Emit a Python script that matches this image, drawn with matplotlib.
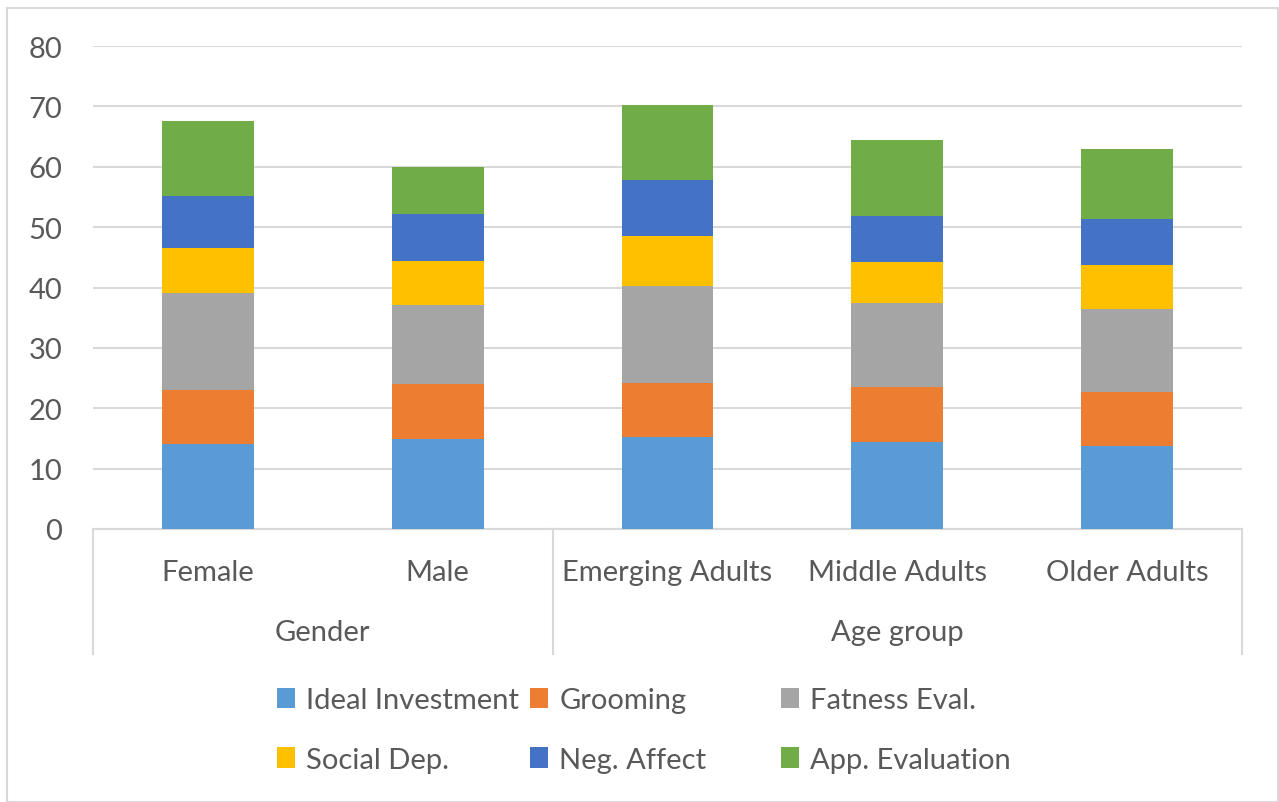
import matplotlib
matplotlib.use("Agg")
import matplotlib.pyplot as plt
from matplotlib.patches import Rectangle

categories = ["Female", "Male", "Emerging Adults", "Middle Adults", "Older Adults"]
groups = ["Gender", "Age group"]
group_sizes = [2, 3]

series_names = ["Ideal Investment", "Grooming", "Fatness Eval.",
                "Social Dep.", "Neg. Affect", "App. Evaluation"]
ideal_investment = [14.0, 14.9, 15.2, 14.4, 13.7]
grooming = [9.0, 9.1, 9.0, 9.2, 9.0]
fatness_eval = [16.1, 13.1, 16.0, 13.8, 13.8]
social_dep = [7.4, 7.3, 8.3, 6.8, 7.2]
neg_affect = [8.6, 7.8, 9.3, 7.6, 7.6]
app_evaluation = [12.5, 7.7, 12.4, 12.7, 11.7]
series = [ideal_investment, grooming, fatness_eval, social_dep, neg_affect, app_evaluation]
colors = ["#5b9bd5", "#ed7d31", "#a5a5a5", "#ffc000", "#4472c4", "#70ad47"]

plt.rcParams['font.family'] = ['Lato', 'DejaVu Sans']
txt = "#595959"
grid = "#d9d9d9"
fs = 21

W, H = 1279, 803
fig = plt.figure(figsize=(W/100, H/100), dpi=100)
fig.patches.append(Rectangle((7/W, 0), 1271/W, 1 - 9/H, transform=fig.transFigure,
                             fill=False, edgecolor=grid, lw=1.5))

ax = fig.add_axes([93/W, 1 - 530/H, 1149/W, 483/H])
x = list(range(len(categories)))
bottom = [0]*len(categories)
handles = []
for name, vals, c in zip(series_names, series, colors):
    b = ax.bar(x, vals, 0.4, bottom=bottom, color=c, label=name, zorder=3)
    handles.append(b)
    bottom = [p + q for p, q in zip(bottom, vals)]

ax.set_xlim(-0.5, len(categories) - 0.5)
ax.set_ylim(0, 80)
ax.set_yticks(range(0, 81, 10))
ax.yaxis.grid(True, color=grid, lw=1.5, zorder=0)
ax.tick_params(axis='y', length=0, labelsize=fs, labelcolor=txt, pad=22)
ax.set_xticks([])
for s in ["top", "right", "left"]:
    ax.spines[s].set_visible(False)
ax.spines["bottom"].set_color(grid)
ax.spines["bottom"].set_linewidth(1.5)

tr = ax.get_xaxis_transform()
for i, c in enumerate(categories):
    ax.text(i, -0.09, c, transform=tr, ha='center', va='center', fontsize=fs, color=txt)
start = 0
bounds = [-0.5]
for g, n in zip(groups, group_sizes):
    ax.text(start + (n - 1)/2, -0.214, g, transform=tr, ha='center', va='center',
            fontsize=fs, color=txt)
    start += n
    bounds.append(start - 0.5)
for bx in bounds:
    ax.plot([bx, bx], [0, -0.259], transform=tr, color=grid, lw=1.5, clip_on=False)

# legend: 3 columns, row-major order like the original
col_x = [277, 530, 781]
for k, cx in enumerate(col_x):
    idx = [k, k + 3]
    leg = fig.legend([handles[i] for i in idx], [series_names[i] for i in idx],
                     loc='center left', bbox_to_anchor=(cx/W, 1 - 731/H),
                     frameon=False, fontsize=fs, labelcolor=txt,
                     handlelength=0.6, handleheight=0.7, handletextpad=0.4,
                     labelspacing=1.15, borderpad=0, borderaxespad=0)

fig.savefig("out.png", dpi=100)
